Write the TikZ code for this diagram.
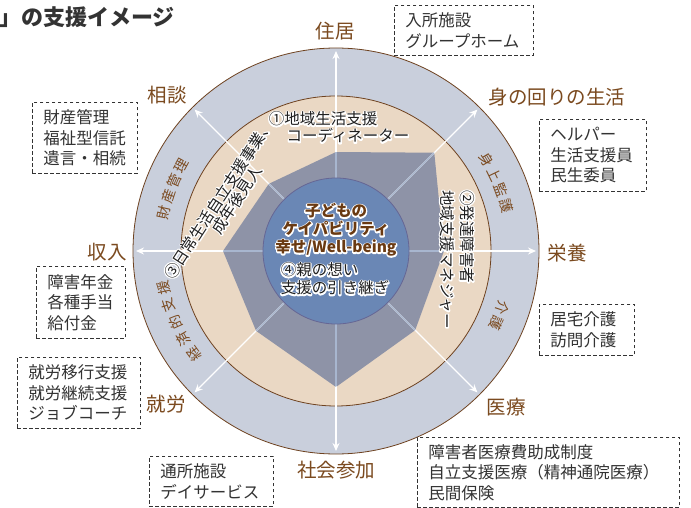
\documentclass[tikz,border=0pt]{standalone}
\usepackage{fontspec}
\setmainfont{Noto Sans CJK JP}
\usetikzlibrary{arrows.meta,calc}
\definecolor{ringblue}{HTML}{C9CFDC}
\definecolor{beige}{HTML}{EAD8C4}
\definecolor{polyc}{HTML}{8E93A7}
\definecolor{core}{HTML}{6A87B5}
\definecolor{brn}{HTML}{6E4220}
\definecolor{lblc}{HTML}{7B4A1F}
\definecolor{corebrn}{HTML}{6A3A12}
\definecolor{axlight}{HTML}{A8B6CF}
\definecolor{ink}{HTML}{333333}
\newcommand\hl[1]{\leavevmode\rlap{\color{white}\special{pdf:literal direct 2 Tr 2.6 w 1 j}#1\special{pdf:literal direct 0 Tr}}#1}
\begin{document}
\begin{tikzpicture}[x=1pt,y=-1pt,
 lbl/.style={text=lblc, font=\fontsize{19.5}{22}\selectfont, inner sep=0},
 box/.style={draw=ink, dash pattern=on 3.5pt off 2.5pt, line width=0.8pt, anchor=north west, align=left, inner xsep=11pt, inner ysep=0pt, text=ink, font=\fontsize{16.5}{20.5}\selectfont},
 ringch/.style={text=lblc, font=\fontsize{14}{14}\selectfont, inner sep=0},
 halo/.style={text=black!88, font=\fontsize{15.5}{18}\selectfont, inner sep=0},
 axis/.style={white, line width=1.4pt, -{Stealth[length=8pt,width=7pt]}}
]
\path[use as bounding box, fill=white] (0,0) rectangle (691,508);
\coordinate (C) at (336,251);
\draw[brn, line width=0.8pt, fill=ringblue] (C) circle[radius=203pt];
\draw[brn, line width=0.8pt, fill=beige] (C) circle[radius=155pt];
\foreach \a/\r [count=\i] in {90/99,45/139,0/108,-45/112,-90/136,-135/113,180/113,135/95}
  \coordinate (P\i) at ($(C)+(\a:\r pt)$);
\fill[polyc] (P1) -- (P2) -- (P3) -- (P4) -- (P5) -- (P6) -- (P7) -- (P8) -- cycle;
\foreach \a [count=\i] in {90,45,0,-45,-90,-135,180,135}{
  \coordinate (E\i) at ($(C)+(\a:200pt)$);
  \draw[axis] (C) -- (E\i);
}
\begin{scope}
\clip (P1) -- (P2) -- (P3) -- (P4) -- (P5) -- (P6) -- (P7) -- (P8) -- cycle;
\foreach \i in {1,...,8} \draw[axlight, line width=1.4pt] (C) -- (E\i);
\end{scope}
\draw[fill=core, draw=black!70!blue!60, line width=0.8pt] (C) circle[radius=73pt];

% ring characters
\foreach \ch/\a [count=\k] in {財/167.4,産/162,管/156.6,理/151.2,身/31.2,上/25.8,監/20.4,護/15,介/-18.7,護/-24.1,経/216,済/210,的/204,支/198,援/192}
  \node[ringch, rotate=\a-90] (r\k) at ($(C)+(\a:176pt)$) {\ch};

% center texts
\node[font=\fontsize{15.5}{18}\selectfont\bfseries, text=corebrn, align=center, inner sep=0] (core) at (336,230)
  {\hl{子どもの}\\\hl{ケイパビリティ}\\\hl{幸せ/Well-being}};
\node[halo, align=left] (parent) at (335,279) {\hl{④親の想い}\\\hl{支援の引き継ぎ}};

% beige ring texts
\node[halo] (n1a) at (323,119) {\hl{①地域生活支援}};
\node[halo] (n1b) at (348,136) {\hl{コーディネーター}};
\node[halo, rotate=57, anchor=west] (n3a) at (168,277) {\hl{③日常生活自立支援事業、}};
\node[halo, rotate=57, anchor=west] (n3b) at (215.5,232) {\hl{成年後見人}};
\node[halo, rotate=-90, anchor=west] (n2a) at (467,190) {\hl{②発達障害者}};
\node[halo, rotate=-90, anchor=west] (n2b) at (447,190) {\hl{地域支援マネジャー}};

% outer labels
\node[lbl] (l1) at (335,31) {住居};
\node[lbl] (l2) at (557,97) {身の回りの生活};
\node[lbl] (l3) at (567,253) {栄養};
\node[lbl] (l4) at (506,407) {医療};
\node[lbl] (l5) at (336,470) {社会参加};
\node[lbl] (l6) at (166,404) {就労};
\node[lbl] (l7) at (107,252) {収入};
\node[lbl] (l8) at (167,95) {相談};

% title
\node[anchor=west, inner sep=0, text=ink, font=\fontsize{22}{22}\selectfont\bfseries] (title) at (-1,17) {」の支援イメージ};

% boxes
\node[box, text width=117pt, minimum height=50pt] (b1) at (394,5) {入所施設\\グループホーム};
\node[box, text width=85pt, minimum height=72pt] (b2) at (539,119) {ヘルパー\\生活支援員\\民生委員};
\node[box, text width=73pt, minimum height=51pt] (b3) at (539,304) {居宅介護\\訪問介護};
\node[box, text width=240pt, minimum height=70pt] (b4) at (417,437) {障害者医療費助成制度\\自立支援医療（精神通院医療）\\民間保険};
\node[box, text width=102pt, minimum height=50pt] (b5) at (149,456) {通所施設\\デイサービス};
\node[box, text width=101pt, minimum height=71pt] (b6) at (17,357) {就労移行支援\\就労継続支援\\ジョブコーチ};
\node[box, text width=67pt, minimum height=72pt] (b7) at (36,266) {障害年金\\各種手当\\給付金};
\node[box, text width=83pt, minimum height=71pt] (b8) at (32,102) {財産管理\\福祉型信託\\遺言・相続};
\end{tikzpicture}
\end{document}
